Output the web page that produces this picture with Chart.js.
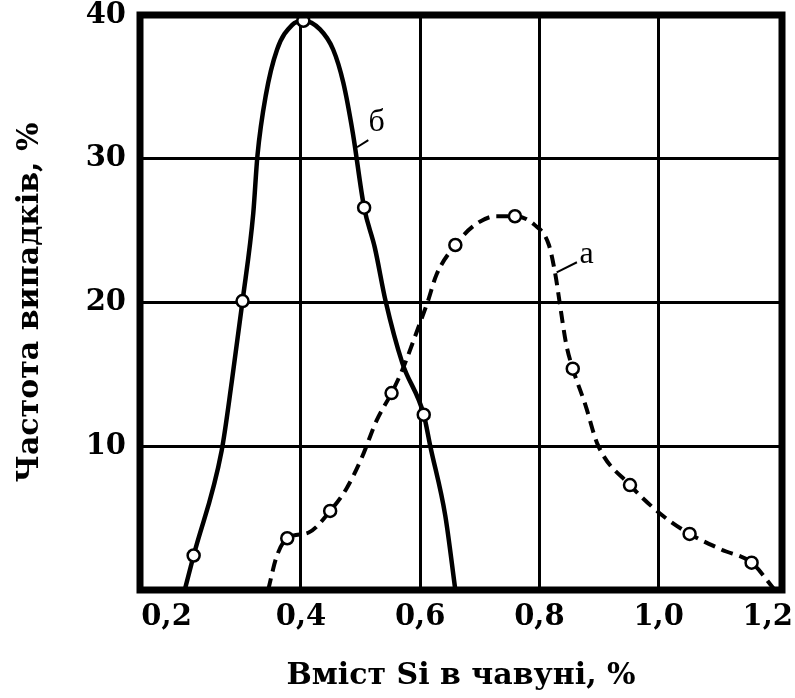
<!DOCTYPE html>
<html>
<head>
<meta charset="utf-8">
<script src="https://cdn.jsdelivr.net/npm/chart.js@4"></script>
<style>
    html, body { margin: 0; padding: 0; background: #fff; }
    #wrap { width: 795px; height: 698px; }
</style>
</head>
<body>
<div id="wrap"><canvas id="siChart"></canvas></div>
<script>
// ticks
const xTicks = [0.2, 0.4, 0.6, 0.8, 1.0, 1.2];
const yTicks = [0, 10, 20, 30, 40];

const curveBx = [0.205, 0.220, 0.267, 0.284, 0.302, 0.320, 0.327, 0.341, 0.360, 0.385, 0.404, 0.432, 0.454, 0.471, 0.487, 0.506, 0.524, 0.542, 0.570, 0.606, 0.617, 0.642, 0.659];
const curveBy = [0, 2.4, 9.7, 14.5, 20.1, 26.2, 30.2, 34.4, 37.6, 39.3, 39.6, 39.0, 37.6, 35.3, 31.8, 26.6, 23.8, 20.1, 15.8, 12.2, 10.0, 5.2, 0];
const pointsBx = [0.220, 0.302, 0.404, 0.506, 0.606];
const pointsBy = [2.4, 20.1, 39.6, 26.6, 12.2];

const curveAx = [0.345, 0.359, 0.377, 0.413, 0.449, 0.477, 0.502, 0.527, 0.552, 0.570, 0.599, 0.613, 0.627, 0.659, 0.692, 0.727, 0.759, 0.792, 0.816, 0.827, 0.834, 0.845, 0.856, 0.877, 0.898, 0.952, 1.006, 1.052, 1.106, 1.156, 1.195];
const curveAy = [0, 2.3, 3.6, 4.0, 5.5, 7.1, 9.2, 11.8, 13.7, 15.3, 18.5, 20.1, 21.9, 24.0, 25.4, 26.0, 26.0, 25.4, 24.0, 21.9, 20.0, 17.1, 15.4, 12.9, 10.1, 7.3, 5.2, 3.9, 2.8, 1.9, 0];
const pointsAx = [0.377, 0.449, 0.552, 0.659, 0.759, 0.856, 0.952, 1.052, 1.156];
const pointsAy = [3.6, 5.5, 13.7, 24.0, 26.0, 15.4, 7.3, 3.9, 1.9];

// curve labels with short leader lines: [text, textX, textY, fromX, fromY, toX, toY]
const curveLabels = [
    ['б', 0.527, 32.5, 0.494, 30.8, 0.513, 31.3],
    ['а', 0.879, 23.3, 0.829, 22.1, 0.863, 22.8]
];

const serif = '"DejaVu Serif", "Liberation Serif", serif';

function pairs(xs, ys) {
    return xs.map(function (x, i) { return { x: x, y: ys[i] }; });
}

// comma decimals; the two end labels sit a little to the left in the drawing
function fmt(v) {
    const s = v.toFixed(1).replace('.', ',');
    if (v < 0.3) return s + '   ';
    if (v > 1.1) return s + '  ';
    return s;
}

// keep the plot box where the drawing has it, labels may overhang
function noOverhang(scale) {
    scale.paddingTop = 0;
    scale.paddingBottom = 0;
    scale.paddingLeft = 0;
    scale.paddingRight = 0;
}

// frame round the plot area plus the curve letters
const framePlugin = {
    id: 'frame',
    afterDatasetsDraw: function (chart) {
        const ctx = chart.ctx;
        const xs = chart.scales.x;
        const ys = chart.scales.y;
        ctx.save();
        ctx.strokeStyle = '#000';
        ctx.lineWidth = 2;
        ctx.fillStyle = '#000';
        ctx.font = '32px "Liberation Serif", serif';
        ctx.textAlign = 'center';
        ctx.textBaseline = 'middle';
        curveLabels.forEach(function (l) {
            ctx.beginPath();
            ctx.moveTo(xs.getPixelForValue(l[3]), ys.getPixelForValue(l[4]));
            ctx.lineTo(xs.getPixelForValue(l[5]), ys.getPixelForValue(l[6]));
            ctx.stroke();
            ctx.fillText(l[0], xs.getPixelForValue(l[1]), ys.getPixelForValue(l[2]));
        });
        const a = chart.chartArea;
        ctx.lineWidth = 7;
        ctx.strokeRect(a.left, a.top, a.right - a.left, a.bottom - a.top);
        ctx.restore();
    }
};

const config = {
    type: 'scatter',
    data: {
        datasets: [
            {
                label: 'б точки',
                data: pairs(pointsBx, pointsBy),
                showLine: false,
                pointRadius: 6,
                pointBackgroundColor: '#fff',
                pointBorderColor: '#000',
                pointBorderWidth: 2.5
            },
            {
                label: 'а точки',
                data: pairs(pointsAx, pointsAy),
                showLine: false,
                pointRadius: 6,
                pointBackgroundColor: '#fff',
                pointBorderColor: '#000',
                pointBorderWidth: 2.5
            },
            {
                label: 'б',
                data: pairs(curveBx, curveBy),
                showLine: true,
                borderColor: '#000',
                borderWidth: 4.5,
                pointRadius: 0,
                cubicInterpolationMode: 'monotone'
            },
            {
                label: 'а',
                data: pairs(curveAx, curveAy),
                showLine: true,
                borderColor: '#000',
                borderWidth: 4,
                borderDash: [12, 7],
                pointRadius: 0,
                cubicInterpolationMode: 'monotone'
            }
        ]
    },
    options: {
        responsive: true,
        maintainAspectRatio: false,
        animation: false,
        layout: { padding: { top: 15, right: 13, left: 8, bottom: 0 } },
        plugins: {
            legend: { display: false },
            tooltip: { enabled: false }
        },
        scales: {
            x: {
                type: 'linear',
                min: 0.13,
                max: 1.207,
                afterBuildTicks: function (scale) {
                    scale.ticks = xTicks.map(function (v) { return { value: v }; });
                },
                afterFit: function (scale) {
                    scale.height = 108;
                    noOverhang(scale);
                },
                grid: {
                    color: function (c) {
                        const v = c.tick ? c.tick.value : 0;
                        return (v < 0.3 || v > 1.1) ? 'rgba(0,0,0,0)' : '#000';
                    },
                    lineWidth: 3,
                    drawTicks: false
                },
                border: { display: false },
                ticks: {
                    padding: 10,
                    color: '#000',
                    font: { family: serif, size: 29, weight: 'bold' },
                    callback: function (v) { return fmt(v); }
                },
                title: {
                    display: true,
                    text: 'Вміст Si в чавуні, %',
                    color: '#000',
                    font: { family: serif, size: 30, weight: 'bold' },
                    padding: { top: 10 }
                }
            },
            y: {
                min: 0,
                max: 40,
                afterBuildTicks: function (scale) {
                    scale.ticks = yTicks.map(function (v) { return { value: v }; });
                },
                afterFit: function (scale) {
                    scale.width = 132;
                    noOverhang(scale);
                },
                grid: {
                    color: '#000',
                    lineWidth: 3,
                    drawTicks: false
                },
                border: { display: false },
                ticks: {
                    padding: 14,
                    color: '#000',
                    font: { family: serif, size: 29, weight: 'bold' },
                    callback: function (v) { return v === 0 ? '' : v; }
                },
                title: {
                    display: true,
                    text: 'Частота випадків, %',
                    color: '#000',
                    font: { family: serif, size: 30, weight: 'bold' },
                    padding: { bottom: 6 }
                }
            }
        }
    },
    plugins: [framePlugin]
};

const siChart = new Chart(document.getElementById('siChart'), config);
</script>
</body>
</html>
